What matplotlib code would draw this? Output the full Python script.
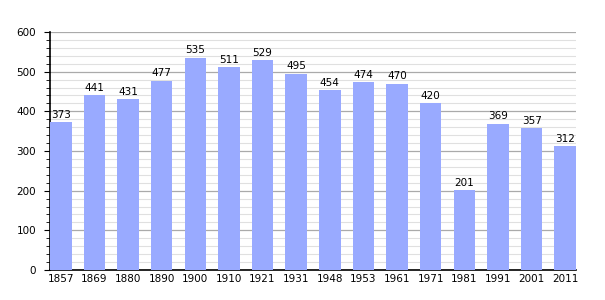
import numpy as np
import matplotlib.pyplot as plt
from matplotlib.ticker import MultipleLocator

years = ['1857', '1869', '1880', '1890', '1900', '1910', '1921', '1931',
         '1948', '1953', '1961', '1971', '1981', '1991', '2001', '2011']
population = [373, 441, 431, 477, 535, 511, 529, 495,
              454, 474, 470, 420, 201, 369, 357, 312]

fig = plt.figure(figsize=(6.05, 3.0), dpi=100)
ax = fig.add_axes([50/605, 30/300, 526/605, 238/300])

x = np.arange(len(years))
bars = ax.bar(x, population, width=0.64, color='#99aaff', zorder=3)

for xi, v in zip(x, population):
    ax.text(xi, v + 6, str(v), ha='center', va='bottom', fontsize=7.5, zorder=4)

ax.set_xlim(-0.32, len(years) - 0.68)
ax.set_ylim(0, 600)
ax.set_xticks(x)
ax.set_xticklabels(years)
ax.yaxis.set_major_locator(MultipleLocator(100))
ax.yaxis.set_minor_locator(MultipleLocator(20))

ax.grid(axis='y', which='major', color='#aaaaaa', linewidth=0.9, zorder=0)
ax.grid(axis='y', which='minor', color='#e0e0e0', linewidth=0.8, zorder=0)

ax.tick_params(axis='x', length=0, labelsize=7.5, pad=3)
ax.tick_params(axis='y', which='major', length=4, labelsize=7.5, pad=6)
ax.tick_params(axis='y', which='minor', length=3)

for s in ['top', 'right']:
    ax.spines[s].set_visible(False)
ax.spines['left'].set_linewidth(1.2)
ax.spines['bottom'].set_linewidth(1.2)

fig.savefig('out.png', dpi=100)
